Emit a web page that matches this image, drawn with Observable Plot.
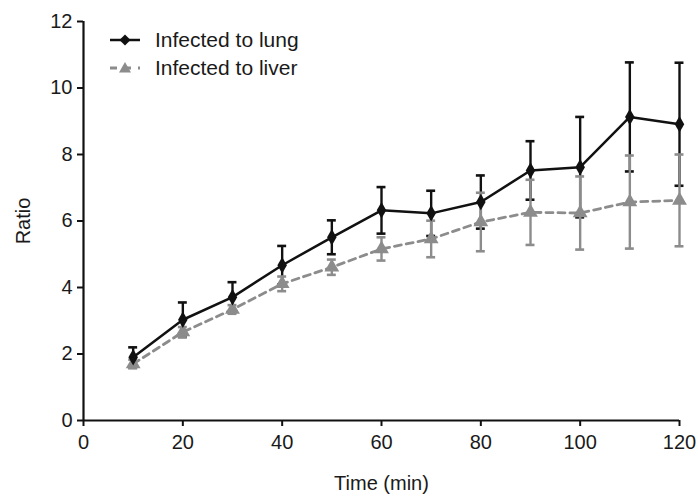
<!DOCTYPE html>
<html>
<head>
<meta charset="utf-8">
<script src="https://cdn.jsdelivr.net/npm/d3@7"></script>
<script src="https://cdn.jsdelivr.net/npm/@observablehq/plot@0.6"></script>
<style>
  html, body { margin: 0; padding: 0; background: #fff; }
  #wrap { position: relative; width: 698px; height: 498px; font-family: "Liberation Sans", Arial, sans-serif; color: #1a1a1a; }
  #legend { position: absolute; left: 108px; top: 26px; font-size: 21px; }
  .row { display: flex; align-items: center; height: 28px; }
  .row svg { margin-right: 13px; }
</style>
</head>
<body>
<div id="wrap"></div>
<script>
const times = [10, 20, 30, 40, 50, 60, 70, 80, 90, 100, 110, 120];
const lungMean = [1.90, 3.03, 3.71, 4.67, 5.51, 6.32, 6.23, 6.57, 7.52, 7.62, 9.13, 8.91];
const lungErr  = [0.30, 0.52, 0.45, 0.58, 0.51, 0.70, 0.68, 0.80, 0.88, 1.51, 1.64, 1.85];
const liverMean = [1.70, 2.66, 3.34, 4.11, 4.61, 5.16, 5.46, 5.97, 6.26, 6.24, 6.57, 6.62];
const liverErr  = [0.13, 0.15, 0.13, 0.22, 0.23, 0.35, 0.55, 0.88, 0.98, 1.10, 1.40, 1.38];
const xTicks = [0, 20, 40, 60, 80, 100, 120];
const yTicks = [0, 2, 4, 6, 8, 10, 12];
const seriesNames = ["Infected to lung", "Infected to liver"];

const BLACK = "#111111";
const GREY = "#8c8c8c";

const lung = times.map((t, i) => ({t, v: lungMean[i], e: lungErr[i]}));
const liver = times.map((t, i) => ({t, v: liverMean[i], e: liverErr[i]}));
const capHalf = 0.9;

function errorMarks(data, color) {
  return [
    Plot.ruleX(data, {x: "t", y1: d => d.v - d.e, y2: d => d.v + d.e, stroke: color, strokeWidth: 2.4}),
    Plot.ruleY(data, {y: d => d.v + d.e, x1: d => d.t - capHalf, x2: d => d.t + capHalf, stroke: color, strokeWidth: 2.6}),
    Plot.ruleY(data, {y: d => d.v - d.e, x1: d => d.t - capHalf, x2: d => d.t + capHalf, stroke: color, strokeWidth: 2.6})
  ];
}

const chart = Plot.plot({
  width: 698,
  height: 498,
  marginLeft: 83,
  marginRight: 19,
  marginTop: 21,
  marginBottom: 78,
  style: {fontFamily: "Liberation Sans, Arial, sans-serif", fontSize: "20px", color: "#1a1a1a", background: "white"},
  x: {domain: [0, 120]},
  y: {domain: [0, 12]},
  marks: [
    ...errorMarks(lung, BLACK),
    ...errorMarks(liver, GREY),
    Plot.line(liver, {x: "t", y: "v", stroke: GREY, strokeWidth: 2.8, strokeDasharray: "7,5"}),
    Plot.line(lung, {x: "t", y: "v", stroke: BLACK, strokeWidth: 2.5}),
    Plot.dot(liver, {x: "t", y: "v", symbol: "triangle", r: 5.5, fill: GREY, stroke: "none"}),
    Plot.dot(lung, {x: "t", y: "v", symbol: "diamond", r: 5, fill: BLACK, stroke: "none"}),
    Plot.axisX({ticks: xTicks, tickSize: 6, tickPadding: 8, strokeWidth: 2, stroke: BLACK, fontSize: 20,
      label: "Time (min)", labelAnchor: "center", labelOffset: 69, labelArrow: "none"}),
    Plot.axisY({ticks: yTicks, tickSize: 6, tickPadding: 5, strokeWidth: 2, stroke: BLACK, fontSize: 20,
      label: "Ratio", labelAnchor: "center", labelOffset: 68, labelArrow: "none"}),
    Plot.ruleX([0], {stroke: BLACK, strokeWidth: 2.2}),
    Plot.ruleY([0], {stroke: BLACK, strokeWidth: 2.2})
  ]
});

const wrap = document.getElementById("wrap");
wrap.appendChild(chart);

// legend (HTML overlay)
const legend = document.createElement("div");
legend.id = "legend";
const sw = [
  `<svg width="34" height="20"><line x1="2" y1="10" x2="32" y2="10" stroke="${BLACK}" stroke-width="2.5"/><path d="M17,4.5 L22.5,10 L17,15.5 L11.5,10 Z" fill="${BLACK}"/></svg>`,
  `<svg width="34" height="20"><line x1="2" y1="10" x2="32" y2="10" stroke="${GREY}" stroke-width="2.8" stroke-dasharray="7,7"/><path d="M17,4 L23,14.5 L11,14.5 Z" fill="${GREY}"/></svg>`
];
legend.innerHTML = seriesNames.map((n, i) => `<div class="row">${sw[i]}<span>${n}</span></div>`).join("");
wrap.appendChild(legend);
</script>
</body>
</html>
